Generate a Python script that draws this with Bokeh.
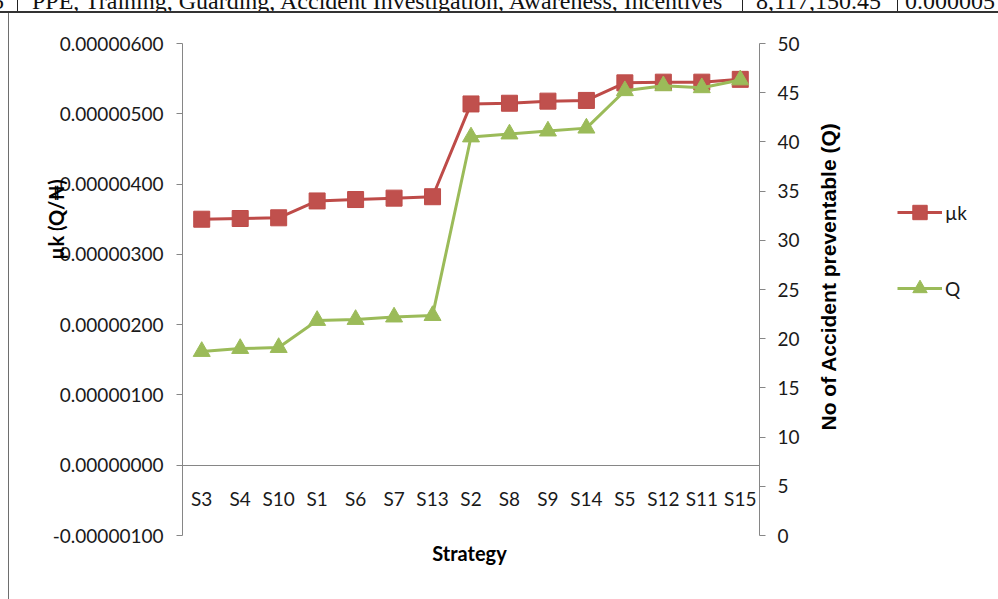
import math
from bokeh.plotting import figure
from bokeh.models import (Range1d, LinearAxis, FixedTicker, NumeralTickFormatter,
                          Legend, LegendItem, Label, Div)
from bokeh.layouts import column, row
from bokeh.embed import file_html
from bokeh.resources import INLINE

# ---------------- data ----------------
strategies = ["S3", "S4", "S10", "S1", "S6", "S7", "S13", "S2",
              "S8", "S9", "S14", "S5", "S12", "S11", "S15"]
mu_k = [3.50e-6, 3.51e-6, 3.52e-6, 3.76e-6, 3.78e-6, 3.80e-6, 3.82e-6, 5.14e-6,
        5.15e-6, 5.18e-6, 5.19e-6, 5.44e-6, 5.45e-6, 5.45e-6, 5.49e-6]
q_values = [18.7, 19.0, 19.1, 21.85, 21.95, 22.2, 22.35, 40.5,
            40.8, 41.1, 41.4, 45.2, 45.7, 45.5, 46.3]
left_ticks = [-1e-6, 0.0, 1e-6, 2e-6, 3e-6, 4e-6, 5e-6, 6e-6]
right_ticks = [0, 5, 10, 15, 20, 25, 30, 35, 40, 45, 50]
table_texts = ["PPE, Training, Guarding, Accident Investigation, Awareness, Incentives",
               "8,117,150.45", "0.000005"]

x_idx = list(range(len(strategies)))

RED_LINE = "#BE4B48"
RED_FILL = "#C0504D"
GREEN = "#9BBB59"
AXIS_GREY = "#868686"
TICK_FONT = "Lato"
TICK_SIZE = "19px"
TEXT_COLOR = "#1a1a1a"

# ---------------- layout geometry (pixels inside the figure) ----------------
FIG_W, FIG_H = 989, 586
PLOT_L, PLOT_R = 173, 750          # left / right value axes
PLOT_T, PLOT_B = 30, 522           # top / bottom of value axes
n = len(strategies)
px_per_cat = (PLOT_R - PLOT_L) / n
x_start = -0.5 - PLOT_L / px_per_cat
x_end = x_start + FIG_W / px_per_cat

def span_range(lo, hi):
    per_px = (hi - lo) / (PLOT_B - PLOT_T)
    return Range1d(lo - (FIG_H - PLOT_B) * per_px, hi + PLOT_T * per_px)

LEFT_LO, LEFT_HI = left_ticks[0], left_ticks[-1]
RIGHT_LO, RIGHT_HI = right_ticks[0], right_ticks[-1]

# ---------------- top strip (cropped table row) ----------------
top_html = (
    '<div style="position:relative;width:998px;height:13px;overflow:hidden;'
    'font-family:\'Liberation Serif\';font-size:24px;line-height:24px;color:#111;">'
    '<span style="position:absolute;left:-8px;top:-11px;white-space:nowrap;">5</span>'
    f'<span style="position:absolute;left:32px;top:-11px;white-space:nowrap;">{table_texts[0]}</span>'
    f'<span style="position:absolute;left:756px;top:-11px;white-space:nowrap;">{table_texts[1]}</span>'
    f'<span style="position:absolute;left:905px;top:-11px;white-space:nowrap;">{table_texts[2]}</span>'
    '<div style="position:absolute;left:17px;top:0;width:1px;height:11px;background:#222;"></div>'
    '<div style="position:absolute;left:742px;top:0;width:1px;height:11px;background:#222;"></div>'
    '<div style="position:absolute;left:897px;top:0;width:1px;height:11px;background:#222;"></div>'
    '<div style="position:absolute;left:0;top:11px;width:998px;height:2px;background:#333;"></div>'
    '</div>'
)
top_div = Div(text=top_html, width=998, height=13, margin=0, styles={"overflow": "hidden"})

left_div = Div(text='<div style="margin-left:8px;width:1px;height:586px;background:#6e6e6e;"></div>',
               width=9, height=586, margin=0, styles={"overflow": "hidden"})

# ---------------- figure ----------------
p = figure(width=FIG_W, height=FIG_H,
           x_range=Range1d(x_start, x_end),
           y_range=span_range(LEFT_LO, LEFT_HI),
           x_axis_location=None, y_axis_location=None,
           output_backend="svg", toolbar_location=None,
           min_border=0, margin=0)
p.extra_y_ranges = {"q": span_range(RIGHT_LO, RIGHT_HI)}
p.grid.visible = False
p.outline_line_color = None
p.background_fill_color = "white"
p.border_fill_color = "white"

def style_axis(ax):
    ax.axis_line_color = AXIS_GREY
    ax.axis_line_width = 1
    ax.minor_tick_line_color = None
    ax.major_label_text_font = TICK_FONT
    ax.major_label_text_font_size = TICK_SIZE
    ax.major_label_text_color = TEXT_COLOR

# category axis crossing the value axis at zero
xa = LinearAxis(fixed_location=0, bounds=(-0.5, n - 0.5),
                ticker=FixedTicker(ticks=x_idx),
                major_label_overrides={i: s for i, s in zip(x_idx, strategies)})
style_axis(xa)
xa.major_tick_line_color = None
xa.major_label_standoff = 16
p.add_layout(xa, "below")

# left value axis
ya = LinearAxis(fixed_location=-0.5, bounds=(LEFT_LO, LEFT_HI),
                ticker=FixedTicker(ticks=left_ticks),
                formatter=NumeralTickFormatter(format="0.00000000"))
style_axis(ya)
ya.major_tick_line_color = AXIS_GREY
ya.major_tick_out = 6
ya.major_tick_in = 0
ya.major_label_standoff = 13
p.add_layout(ya, "left")

# right value axis
ra = LinearAxis(y_range_name="q", fixed_location=n - 0.5, bounds=(RIGHT_LO, RIGHT_HI),
                ticker=FixedTicker(ticks=right_ticks))
style_axis(ra)
ra.major_tick_line_color = AXIS_GREY
ra.major_tick_out = 6
ra.major_tick_in = 0
ra.major_label_standoff = 12
p.add_layout(ra, "right")

# series
l1 = p.line(x_idx, mu_k, line_color=RED_LINE, line_width=3)
s1 = p.scatter(x_idx, mu_k, marker="square", size=16,
               fill_color=RED_FILL, line_color=RED_LINE, line_width=1)
l2 = p.line(x_idx, q_values, y_range_name="q", line_color=GREEN, line_width=3)
s2 = p.scatter(x_idx, q_values, y_range_name="q", marker="triangle", size=17,
               fill_color=GREEN, line_color=GREEN, line_width=1)

legend = Legend(items=[LegendItem(label="µk", renderers=[l1, s1]),
                       LegendItem(label="Q", renderers=[l2, s2])],
                location=(888, 293), orientation="vertical",
                glyph_width=45, glyph_height=36, label_height=36, spacing=40,
                label_standoff=3, padding=0, margin=0,
                border_line_color=None, background_fill_alpha=0,
                label_text_font=TICK_FONT, label_text_font_size=TICK_SIZE,
                label_text_color=TEXT_COLOR)
p.add_layout(legend, "center")

# axis titles
p.add_layout(Label(x=46, y=380, x_units="screen", y_units="screen",
                   text="µk (Q/₦)", angle=math.pi / 2,
                   text_align="center", text_baseline="middle",
                   text_font=TICK_FONT, text_font_style="bold",
                   text_font_size="20px", text_color="#000000"))
p.add_layout(Label(x=819, y=323, x_units="screen", y_units="screen",
                   text="No of Accident preventable (Q)", angle=math.pi / 2,
                   text_align="center", text_baseline="middle",
                   text_font="Liberation Sans", text_font_style="bold",
                   text_font_size="21px", text_color="#000000"))
p.add_layout(Label(x=460, y=47, x_units="screen", y_units="screen",
                   text="Strategy",
                   text_align="center", text_baseline="middle",
                   text_font=TICK_FONT, text_font_style="bold",
                   text_font_size="20px", text_color="#000000"))

layout = column(top_div, row(left_div, p, spacing=0), spacing=0)
open("out.html", "w").write(file_html(layout, INLINE))
